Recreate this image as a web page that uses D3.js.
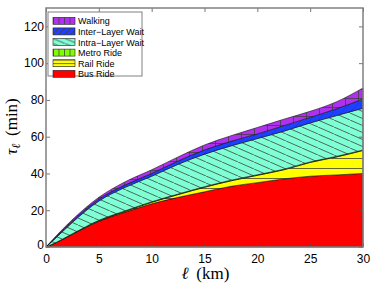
<!DOCTYPE html>
<html>
<head>
<meta charset="utf-8">
<script src="https://cdn.jsdelivr.net/npm/d3@7"></script>
<style>
  body { margin: 0; background: #fff; }
  .tick-label { font-family: "Liberation Sans", Arial, sans-serif; font-size: 12px; fill: #000; }
  .legend-label { font-family: "Liberation Sans", Arial, sans-serif; font-size: 9px; fill: #000; }
  .axis-title { font-family: "Liberation Serif", "DejaVu Serif", serif; font-size: 17px; fill: #000; }
</style>
</head>
<body>
<div id="chart-area"></div>
<script>
// distance along the trip (km)
const distances = [0, 1, 2.5, 5, 7.5, 10, 12.5, 15, 17.5, 20, 22.5, 25, 27.5, 30];

// minutes spent in each mode
const busRide   = [0, 2.5, 7, 14, 19, 23.5, 27, 30, 33, 35, 37, 38.5, 39.2, 40];
const railRide  = [0, 0, 0, 0.2, 0.4, 0.8, 1.5, 2.5, 3, 4, 5, 7.5, 9.8, 12.5];
const metroRide = [0, 0.1, 0.2, 0.3, 0.3, 0.3, 0.3, 0.3, 0.3, 0.3, 0.3, 0.3, 0.3, 0.3];
const intraWait = [0, 2.7, 6.2, 10.5, 12.8, 13.9, 16.2, 17.7, 18.7, 19.7, 20.7, 21.2, 22.2, 22.7];
const interWait = [0, 0.5, 0.8, 1, 1.3, 1.5, 1.8, 2.3, 2.5, 2.5, 3, 3, 3.7, 5];
const walking   = [0, 0.5, 0.7, 1, 1.7, 2, 2.2, 2.7, 3, 3.5, 3.5, 3.3, 3.8, 6];

const keys = ["bus", "rail", "metro", "intra", "inter", "walk"];
const legendLabels = ["Walking", "Inter\u2212Layer Wait", "Intra\u2212Layer Wait", "Metro Ride", "Rail Ride", "Bus Ride"];
const legendKeys = ["walk", "inter", "intra", "metro", "rail", "bus"];

const xTicks = [0, 5, 10, 15, 20, 25, 30];
const yTicks = [0, 20, 40, 60, 80, 100, 120];

let rows = distances.map(function(d, i) {
  return { km: d, bus: busRide[i], rail: railRide[i], metro: metroRide[i],
           intra: intraWait[i], inter: interWait[i], walk: walking[i] };
});

let margin = {top: 8, right: 11, bottom: 37, left: 46},
  width = 374 - margin.left - margin.right,
  height = 284 - margin.top - margin.bottom;

let root = d3.select("#chart-area")
  .append("svg")
  .attr("width", 374)
  .attr("height", 284);

let defs = root.append("defs");
const hatch = "#404040";

function makePattern(id, w, h, bg, draw) {
  let p = defs.append("pattern")
    .attr("id", id)
    .attr("patternUnits", "userSpaceOnUse")
    .attr("width", w).attr("height", h);
  p.append("rect").attr("width", w).attr("height", h).attr("fill", bg);
  draw(p, w, h);
}
function line(p, x1, y1, x2, y2) {
  p.append("line").attr("x1", x1).attr("y1", y1).attr("x2", x2).attr("y2", y2)
    .attr("stroke", hatch).attr("stroke-width", 0.8);
}

const colors = { bus: "#ff0000", rail: "#ffff00", metro: "#7fff00", intra: "#7fffd4", inter: "#2040ff", walk: "#b030f0" };

// plot patterns
makePattern("walk", 13, 9, colors.walk, function(p, w, h) {
  line(p, 0.5, 0, 0.5, h); line(p, 0, 0.5, w, 0.5);
});
makePattern("inter", 8, 8, colors.inter, function(p, w, h) {
  line(p, 0, h, w, 0); line(p, -w, h, 0, 0); line(p, w, h, 2 * w, 0);
});
makePattern("intra", 16, 7, colors.intra, function(p, w, h) {
  line(p, 0, 0, w, h); line(p, -w, -h, 0, 0); line(p, w, h, 2 * w, 2 * h);
});
makePattern("metro", 6, 6, colors.metro, function(p, w, h) { line(p, 0.5, 0, 0.5, h); });
makePattern("rail", 10, 10, colors.rail, function(p, w, h) { line(p, 0, 0.5, w, 0.5); });

// legend patterns (smaller)
makePattern("walkL", 5.5, 20, colors.walk, function(p, w, h) { line(p, 0.5, 0, 0.5, h); });
makePattern("interL", 6, 6, colors.inter, function(p, w, h) {
  line(p, 0, h, w, 0); line(p, -w, h, 0, 0); line(p, w, h, 2 * w, 0);
});
makePattern("intraL", 12, 5, colors.intra, function(p, w, h) {
  line(p, 0, 0, w, h); line(p, -w, -h, 0, 0); line(p, w, h, 2 * w, 2 * h);
});
makePattern("metroL", 5.5, 20, colors.metro, function(p, w, h) { line(p, 0.5, 0, 0.5, h); });
makePattern("railL", 30, 3.5, colors.rail, function(p, w, h) { line(p, 0, 0.5, w, 0.5); });

function fillFor(key, suffix) {
  if (key == "bus") return colors.bus;
  return "url(#" + key + suffix + ")";
}

let svg = root.append("g")
  .attr("transform", "translate(" + margin.left + "," + margin.top + ")");

let x = d3.scaleLinear().domain([0, 30]).range([0, width]);
let y = d3.scaleLinear().domain([0, 130]).range([height, 0]);

let series = d3.stack().keys(keys)(rows);

let area = d3.area()
  .curve(d3.curveMonotoneX)
  .x(function(d) { return x(d.data.km); })
  .y0(function(d) { return y(d[0]); })
  .y1(function(d) { return y(d[1]); });

svg.selectAll(".layer")
  .data(series)
  .enter()
  .append("path")
  .attr("class", "layer")
  .attr("d", area)
  .attr("fill", function(d) { return fillFor(d.key, ""); })
  .attr("stroke", "#111")
  .attr("stroke-width", 0.6)
  .attr("stroke-linejoin", "round");

// ---- AXES (box with inward ticks) ----
const axisColor = "#808080";
let xAxisGroup = svg.append("g").attr("transform", "translate(0," + height + ")")
  .call(d3.axisBottom(x).tickValues(xTicks).tickSizeInner(-4).tickSizeOuter(0).tickPadding(7));
let xTopGroup = svg.append("g")
  .call(d3.axisTop(x).tickValues(xTicks).tickSizeInner(-4).tickSizeOuter(0).tickFormat(""));
let yAxisGroup = svg.append("g")
  .call(d3.axisLeft(y).tickValues(yTicks).tickSizeInner(-4).tickSizeOuter(0).tickPadding(2));
let yRightGroup = svg.append("g").attr("transform", "translate(" + width + ",0)")
  .call(d3.axisRight(y).tickValues(yTicks).tickSizeInner(-4).tickSizeOuter(0).tickFormat(""));

[xAxisGroup, xTopGroup, yAxisGroup, yRightGroup].forEach(function(g) {
  g.select(".domain").remove();
  g.selectAll(".tick line").attr("stroke", "#555").attr("stroke-width", 0.8);
  g.selectAll(".tick text").attr("class", "tick-label").attr("font-family", null).attr("font-size", null);
});
yAxisGroup.selectAll(".tick text").filter(function(d) { return d == 0; }).attr("dy", "0.1em");

svg.append("rect")
  .attr("x", 0).attr("y", 0)
  .attr("width", width).attr("height", height)
  .attr("fill", "none")
  .attr("stroke", axisColor)
  .attr("stroke-width", 1.5);

// axis titles
svg.append("text")
  .attr("class", "axis-title")
  .attr("x", width / 2 + 1)
  .attr("y", height + 32)
  .attr("text-anchor", "middle")
  .html('<tspan font-style="italic">\u2113</tspan>\u2009 (km)');

let yTitle = svg.append("text")
  .attr("class", "axis-title")
  .attr("transform", "translate(" + (-29) + "," + (height / 2 - 1) + ") rotate(-90)")
  .attr("text-anchor", "middle");
yTitle.append("tspan").attr("font-style", "italic").text("\u03c4");
yTitle.append("tspan").attr("font-style", "italic").attr("font-size", "12px").attr("dy", "3").text("\u2113");
yTitle.append("tspan").attr("dy", "-3").text("\u2009 (min)");

// ---- LEGEND ----
let legend = svg.append("g").attr("transform", "translate(2,4)");
legend.append("rect")
  .attr("width", 94).attr("height", 64)
  .attr("fill", "#fff")
  .attr("stroke", axisColor)
  .attr("stroke-width", 1);

let items = legend.selectAll(".legend-item")
  .data(legendKeys)
  .enter()
  .append("g")
  .attr("class", "legend-item")
  .attr("transform", function(d, i) { return "translate(5," + (5.3 + i * 10.6) + ")"; });

items.append("rect")
  .attr("width", 22).attr("height", 7)
  .attr("fill", function(d) { return fillFor(d, "L"); })
  .attr("stroke", "#222").attr("stroke-width", 0.6);

items.append("text")
  .attr("class", "legend-label")
  .attr("x", 25).attr("y", 7)
  .text(function(d, i) { return legendLabels[i]; });
</script>
</body>
</html>
